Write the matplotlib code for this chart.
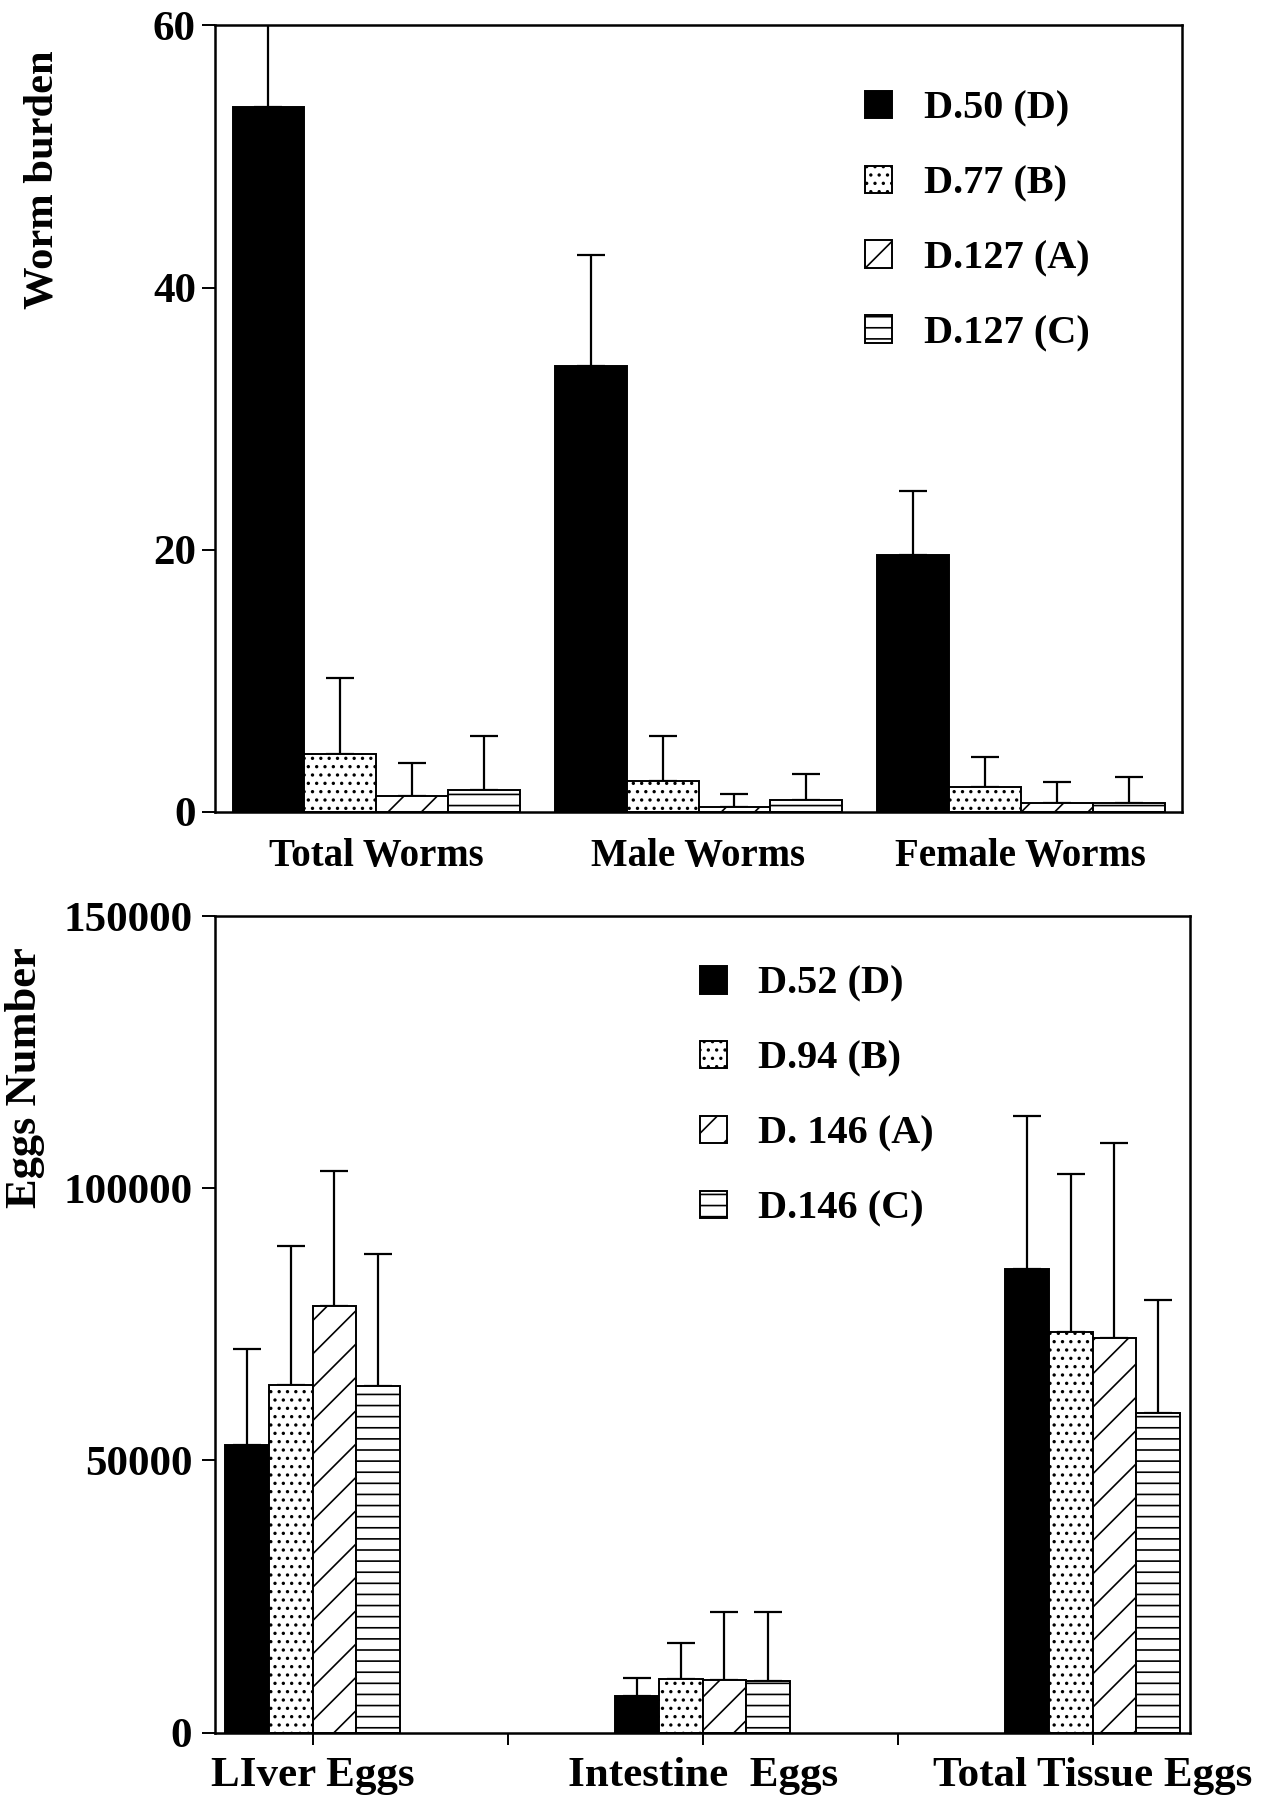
import numpy as np
import matplotlib.pyplot as plt
from matplotlib.patches import Patch

plt.rcParams['font.family'] = ['Liberation Serif', 'DejaVu Serif']
plt.rcParams['font.weight'] = 'bold'
plt.rcParams['hatch.linewidth'] = 0.6

# worm burden (top panel)
worm_groups = ['Total Worms', 'Male Worms', 'Female Worms']
worm_labels = ['D.50 (D)', 'D.77 (B)', 'D.127 (A)', 'D.127 (C)']
worm_d50 = [53.8, 34.0, 19.6]
worm_d77 = [4.4, 2.4, 1.9]
worm_d127a = [1.2, 0.4, 0.7]
worm_d127c = [1.7, 0.9, 0.7]
worm_d50_err = [8.0, 8.5, 4.9]
worm_d77_err = [5.8, 3.4, 2.3]
worm_d127a_err = [2.5, 0.95, 1.6]
worm_d127c_err = [4.1, 2.0, 2.0]

# tissue egg counts (bottom panel)
egg_groups = ['LIver Eggs', 'Intestine  Eggs', 'Total Tissue Eggs']
egg_labels = ['D.52 (D)', 'D.94 (B)', 'D. 146 (A)', 'D.146 (C)']
egg_d52 = [52800, 6800, 85200]
egg_d94 = [63900, 9800, 73500]
egg_d146a = [78400, 9700, 72400]
egg_d146c = [63700, 9400, 58700]
egg_d52_err = [17600, 3300, 28000]
egg_d94_err = [25500, 6700, 29200]
egg_d146a_err = [24700, 12400, 35900]
egg_d146c_err = [24300, 12800, 20800]

styles = [dict(facecolor='black', hatch=None),
          dict(facecolor='white', hatch='....'),
          dict(facecolor='white', hatch='//'),
          dict(facecolor='white', hatch='---')]


def draw_bars(ax, centers, series, errors, width):
    for i, (vals, errs) in enumerate(zip(series, errors)):
        x = np.asarray(centers) + (i - 1.5) * width
        ax.bar(x, vals, width, edgecolor='black', linewidth=0.7,
               zorder=2, **styles[i])
        ax.errorbar(x, vals, yerr=[np.zeros(len(vals)), errs], fmt='none',
                    ecolor='black', elinewidth=0.8, capsize=5, capthick=0.8,
                    zorder=1)


def add_legend(ax, labels, anchor):
    handles = [Patch(edgecolor='black', linewidth=0.7, **s) for s in styles]
    ax.legend(handles, labels, loc='upper left', bbox_to_anchor=anchor,
              frameon=False, fontsize=14.5, handlelength=0.68,
              handleheight=0.68, handletextpad=0.78, labelspacing=0.94,
              borderpad=0, borderaxespad=0)


fig = plt.figure(figsize=(6.365, 8.99), dpi=200)

# top panel
ax1 = fig.add_axes([0.169, 0.5484, 0.7595, 0.4375])
pos1 = np.arange(len(worm_groups))
draw_bars(ax1, pos1, [worm_d50, worm_d77, worm_d127a, worm_d127c],
          [worm_d50_err, worm_d77_err, worm_d127a_err, worm_d127c_err], 0.223)
ax1.set_xlim(-0.5, 2.5)
ax1.set_ylim(0, 60)
ax1.set_yticks([0, 20, 40, 60])
ax1.set_xticks(pos1)
ax1.set_xticklabels(worm_groups)
ax1.tick_params(axis='x', length=0, pad=9.5, labelsize=14)
ax1.tick_params(axis='y', direction='out', length=4.7, width=0.7, pad=2.2,
                labelsize=15.5)
for sp in ax1.spines.values():
    sp.set_linewidth(0.9)
add_legend(ax1, worm_labels, (0.672, 0.917))
fig.text(43 / 1273, 1 - 180 / 1798, 'Worm burden', rotation=90,
         ha='center', va='center', fontsize=15.3)

# bottom panel
ax2 = fig.add_axes([0.169, 0.0364, 0.7658, 0.4541])
pos2 = np.array([0, 2, 4])
draw_bars(ax2, pos2, [egg_d52, egg_d94, egg_d146a, egg_d146c],
          [egg_d52_err, egg_d94_err, egg_d146a_err, egg_d146c_err], 0.224)
ax2.set_xlim(-0.5, 4.5)
ax2.set_ylim(0, 150000)
ax2.set_yticks([0, 50000, 100000, 150000])
ax2.set_xticks([0, 1, 2, 3, 4])
ax2.set_xticklabels([egg_groups[0], '', egg_groups[1], '', egg_groups[2]])
ax2.tick_params(axis='x', direction='out', length=4.3, width=0.7, pad=4.5,
                labelsize=15.5)
ax2.tick_params(axis='y', direction='out', length=4.7, width=0.7, pad=3.5,
                labelsize=15.5)
for sp in ax2.spines.values():
    sp.set_linewidth(0.9)
add_legend(ax2, egg_labels, (0.497, 0.939))
fig.text(25 / 1273, 1 - 1078 / 1798, 'Eggs Number', rotation=90,
         ha='center', va='center', fontsize=16)

fig.savefig('out.png', dpi=200)
